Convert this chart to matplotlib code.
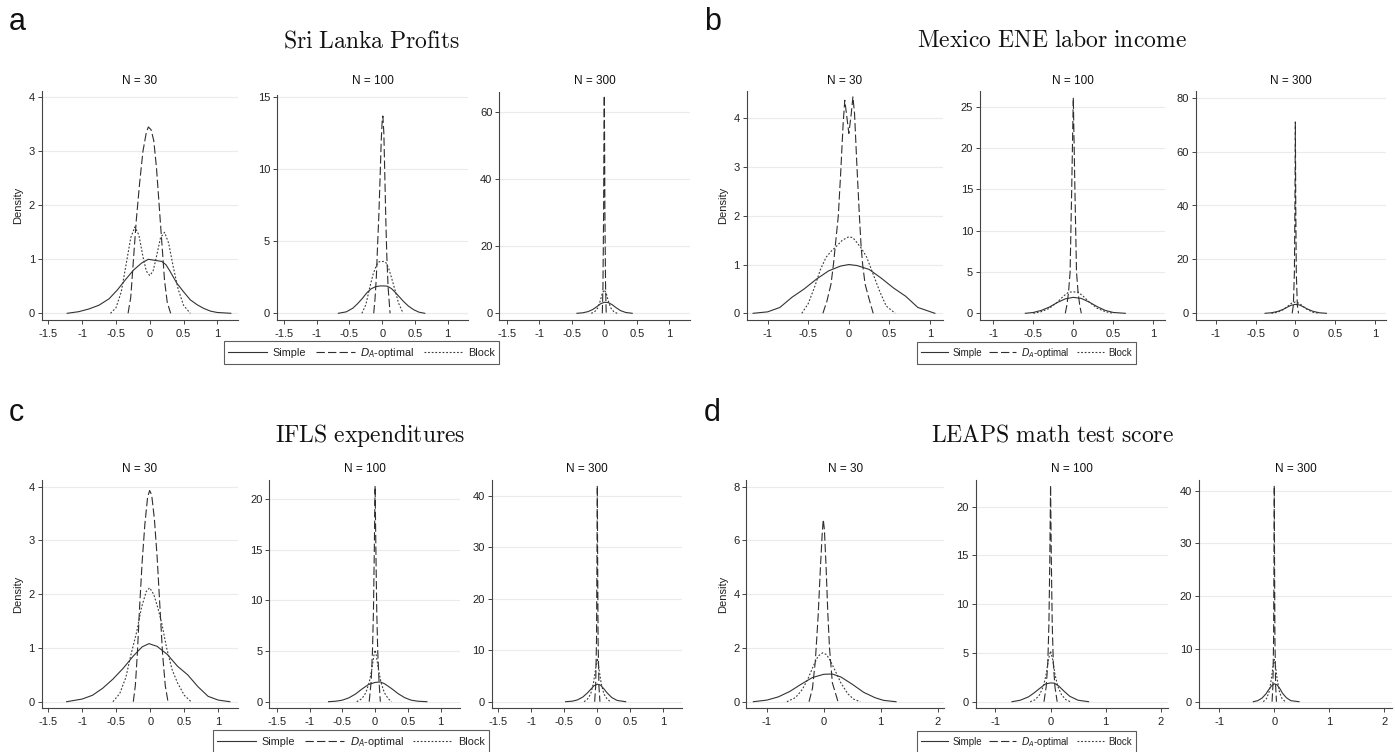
import matplotlib
matplotlib.use("Agg")
import matplotlib.pyplot as plt
from matplotlib.lines import Line2D

plt.rcParams['font.family'] = ['Liberation Sans', 'DejaVu Sans']
plt.rcParams['lines.scale_dashes'] = False

# ---------------- data ----------------
PANEL_TITLES = ["Sri Lanka Profits", "Mexico ENE labor income", "IFLS expenditures", "LEAPS math test score"]
PANEL_LETTERS = ["a", "b", "c", "d"]
SUB_TITLES = ["N = 30", "N = 100", "N = 300"]
SERIES = ["Simple", r"$D_A$-optimal", "Block"]

XT_AC = [-1.5, -1, -0.5, 0, 0.5, 1]
XT_AC_LAB = ["-1.5", "-1", "-0.5", "0", "0.5", "1"]
XT_B = [-1, -0.5, 0, 0.5, 1]
XT_B_LAB = ["-1", "-0.5", "0", "0.5", "1"]
XT_D = [-1, 0, 1, 2]
XT_D_LAB = ["-1", "0", "1", "2"]

YT_A = [[0, 1, 2, 3, 4], [0, 5, 10, 15], [0, 20, 40, 60]]
YT_B = [[0, 1, 2, 3, 4], [0, 5, 10, 15, 20, 25], [0, 20, 40, 60, 80]]
YT_C = [[0, 1, 2, 3, 4], [0, 5, 10, 15, 20], [0, 10, 20, 30, 40]]
YT_D = [[0, 2, 4, 6, 8], [0, 5, 10, 15, 20], [0, 10, 20, 30, 40]]

# Panel a
A30_SIMPLE_X = [-1.22, -1.05, -0.9, -0.75, -0.6, -0.48, -0.36, -0.24, -0.12, -0.02, 0.08, 0.18, 0.24, 0.3, 0.4, 0.5, 0.6, 0.7, 0.8, 0.9, 1.0, 1.2]
A30_SIMPLE_Y = [0.0, 0.03, 0.08, 0.15, 0.27, 0.43, 0.62, 0.8, 0.93, 1.0, 0.98, 0.96, 0.9, 0.78, 0.56, 0.4, 0.25, 0.16, 0.09, 0.04, 0.015, 0.0]
A30_DOPT_X = [-0.32, -0.28, -0.24, -0.2, -0.15, -0.1, -0.05, -0.02, 0.02, 0.06, 0.1, 0.14, 0.18, 0.22, 0.26, 0.31]
A30_DOPT_Y = [0.0, 0.3, 1.0, 1.7, 2.4, 3.0, 3.35, 3.45, 3.4, 3.2, 2.7, 2.0, 1.3, 0.6, 0.2, 0.0]
A30_BLOCK_X = [-0.58, -0.5, -0.42, -0.35, -0.28, -0.22, -0.16, -0.1, -0.05, 0.0, 0.05, 0.1, 0.16, 0.22, 0.28, 0.35, 0.42, 0.5, 0.6]
A30_BLOCK_Y = [0.0, 0.1, 0.4, 0.9, 1.4, 1.6, 1.45, 1.05, 0.78, 0.7, 0.78, 1.05, 1.4, 1.5, 1.3, 0.85, 0.45, 0.15, 0.0]

A100_SIMPLE_X = [-0.67, -0.55, -0.45, -0.38, -0.3, -0.24, -0.17, -0.1, -0.03, 0.03, 0.08, 0.14, 0.2, 0.26, 0.32, 0.4, 0.48, 0.56, 0.65]
A100_SIMPLE_Y = [0.0, 0.1, 0.35, 0.65, 1.05, 1.4, 1.7, 1.85, 1.9, 1.9, 1.88, 1.72, 1.45, 1.15, 0.85, 0.5, 0.25, 0.08, 0.0]
A100_DOPT_X = [-0.13, -0.11, -0.09, -0.07, -0.05, -0.03, -0.015, 0.0, 0.01, 0.025, 0.04, 0.055, 0.07, 0.09, 0.12]
A100_DOPT_Y = [0.0, 1.0, 2.5, 4.8, 7.0, 9.8, 12.0, 13.4, 13.7, 12.5, 9.5, 6.5, 4.0, 1.8, 0.0]
A100_BLOCK_X = [-0.31, -0.25, -0.19, -0.14, -0.1, -0.06, -0.03, 0.0, 0.03, 0.06, 0.1, 0.14, 0.19, 0.25, 0.32]
A100_BLOCK_Y = [0.0, 0.6, 1.8, 2.7, 3.2, 3.55, 3.6, 3.6, 3.6, 3.5, 3.1, 2.5, 1.7, 0.7, 0.0]

A300_SIMPLE_X = [-0.42, -0.33, -0.25, -0.18, -0.12, -0.06, 0.0, 0.06, 0.12, 0.18, 0.25, 0.33, 0.43]
A300_SIMPLE_Y = [0.0, 0.15, 0.5, 1.1, 1.9, 2.8, 3.3, 3.2, 2.6, 1.7, 0.8, 0.25, 0.0]
A300_DOPT_X = [-0.03, -0.02, -0.01, -0.005, 0.0, 0.005, 0.01, 0.02, 0.03]
A300_DOPT_Y = [0.0, 8, 30, 52, 65, 52, 30, 8, 0.0]
A300_BLOCK_X = [-0.2, -0.15, -0.1, -0.06, -0.03, 0.0, 0.03, 0.06, 0.1, 0.15, 0.2]
A300_BLOCK_Y = [0.0, 0.4, 1.6, 3.8, 6.0, 7.0, 6.0, 3.8, 1.6, 0.4, 0.0]

# Panel b
B30_SIMPLE_X = [-1.18, -1.0, -0.85, -0.7, -0.55, -0.4, -0.25, -0.1, 0.0, 0.1, 0.25, 0.4, 0.55, 0.7, 0.85, 1.06]
B30_SIMPLE_Y = [0.0, 0.03, 0.12, 0.33, 0.5, 0.7, 0.87, 0.97, 1.0, 0.98, 0.9, 0.72, 0.52, 0.35, 0.12, 0.0]
B30_DOPT_X = [-0.32, -0.27, -0.22, -0.19, -0.16, -0.13, -0.1, -0.07, -0.05, -0.03, 0.0, 0.03, 0.05, 0.07, 0.1, 0.13, 0.15, 0.17, 0.2, 0.24, 0.3]
B30_DOPT_Y = [0.0, 0.25, 0.6, 1.0, 1.5, 2.0, 2.9, 3.9, 4.37, 4.1, 3.69, 4.1, 4.44, 4.1, 3.0, 2.0, 1.4, 1.0, 0.6, 0.35, 0.0]
B30_BLOCK_X = [-0.58, -0.5, -0.42, -0.35, -0.28, -0.22, -0.15, -0.08, 0.0, 0.05, 0.1, 0.16, 0.22, 0.3, 0.38, 0.46, 0.57]
B30_BLOCK_Y = [0.0, 0.2, 0.55, 0.9, 1.15, 1.27, 1.38, 1.5, 1.57, 1.55, 1.45, 1.32, 1.15, 0.8, 0.45, 0.15, 0.0]

B100_SIMPLE_X = [-0.6, -0.5, -0.4, -0.3, -0.2, -0.1, 0.0, 0.1, 0.2, 0.3, 0.4, 0.5, 0.65]
B100_SIMPLE_Y = [0.0, 0.1, 0.35, 0.75, 1.3, 1.75, 1.93, 1.8, 1.35, 0.8, 0.35, 0.1, 0.0]
B100_DOPT_X = [-0.1, -0.08, -0.06, -0.04, -0.02, 0.0, 0.02, 0.04, 0.06, 0.08, 0.1]
B100_DOPT_Y = [0.0, 1.0, 2.5, 5.0, 15.0, 26.1, 15.0, 5.0, 2.5, 1.0, 0.0]
B100_BLOCK_X = [-0.5, -0.4, -0.3, -0.2, -0.12, -0.06, 0.0, 0.06, 0.12, 0.2, 0.3, 0.4, 0.5]
B100_BLOCK_Y = [0.0, 0.2, 0.6, 1.35, 2.1, 2.55, 2.6, 2.55, 2.1, 1.35, 0.6, 0.2, 0.0]

B300_SIMPLE_X = [-0.38, -0.3, -0.22, -0.15, -0.1, -0.05, 0.0, 0.05, 0.1, 0.15, 0.22, 0.3, 0.39]
B300_SIMPLE_Y = [0.0, 0.2, 0.7, 1.5, 2.3, 3.0, 3.3, 3.1, 2.4, 1.6, 0.75, 0.2, 0.0]
B300_DOPT_X = [-0.04, -0.025, -0.012, -0.005, 0.0, 0.005, 0.012, 0.025, 0.04]
B300_DOPT_Y = [0.0, 3, 15, 40, 71, 40, 15, 3, 0.0]
B300_BLOCK_X = [-0.3, -0.22, -0.15, -0.1, -0.05, 0.0, 0.05, 0.1, 0.15, 0.22, 0.3]
B300_BLOCK_Y = [0.0, 0.4, 1.4, 2.5, 3.7, 4.2, 3.7, 2.5, 1.4, 0.4, 0.0]

# Panel c
C30_SIMPLE_X = [-1.23, -1.0, -0.85, -0.7, -0.55, -0.4, -0.25, -0.12, -0.02, 0.1, 0.25, 0.4, 0.55, 0.7, 0.85, 1.0, 1.17]
C30_SIMPLE_Y = [0.0, 0.05, 0.12, 0.25, 0.42, 0.62, 0.85, 1.02, 1.08, 1.03, 0.88, 0.66, 0.5, 0.28, 0.1, 0.03, 0.0]
C30_DOPT_X = [-0.25, -0.22, -0.19, -0.16, -0.12, -0.08, -0.04, -0.01, 0.02, 0.06, 0.1, 0.14, 0.18, 0.22, 0.26]
C30_DOPT_Y = [0.0, 0.3, 0.9, 1.7, 2.6, 3.3, 3.8, 3.93, 3.85, 3.4, 2.7, 1.8, 0.9, 0.3, 0.0]
C30_BLOCK_X = [-0.55, -0.45, -0.36, -0.28, -0.2, -0.13, -0.06, -0.01, 0.05, 0.11, 0.17, 0.24, 0.32, 0.4, 0.5, 0.6]
C30_BLOCK_Y = [0.0, 0.15, 0.45, 0.9, 1.3, 1.75, 2.05, 2.12, 2.0, 1.75, 1.45, 1.0, 0.6, 0.35, 0.12, 0.0]

C100_SIMPLE_X = [-0.71, -0.6, -0.5, -0.4, -0.3, -0.2, -0.1, 0.0, 0.08, 0.15, 0.25, 0.35, 0.45, 0.55, 0.65, 0.79]
C100_SIMPLE_Y = [0.0, 0.05, 0.15, 0.38, 0.75, 1.25, 1.7, 1.9, 1.95, 1.75, 1.3, 0.8, 0.4, 0.15, 0.05, 0.0]
C100_DOPT_X = [-0.09, -0.06, -0.04, -0.025, -0.012, 0.0, 0.012, 0.025, 0.04, 0.06, 0.08]
C100_DOPT_Y = [0.0, 2.0, 5.0, 9.0, 15.0, 21.3, 15.0, 9.0, 5.0, 2.0, 0.0]
C100_BLOCK_X = [-0.28, -0.2, -0.14, -0.09, -0.05, -0.02, 0.0, 0.02, 0.05, 0.09, 0.14, 0.2, 0.25]
C100_BLOCK_Y = [0.0, 0.3, 0.9, 1.9, 3.2, 4.5, 5.1, 4.5, 3.2, 1.9, 0.9, 0.3, 0.0]

C300_SIMPLE_X = [-0.48, -0.38, -0.3, -0.22, -0.15, -0.1, -0.05, 0.0, 0.05, 0.1, 0.15, 0.22, 0.3, 0.43]
C300_SIMPLE_Y = [0.0, 0.1, 0.35, 0.9, 1.7, 2.4, 3.1, 3.4, 3.2, 2.5, 1.7, 0.8, 0.25, 0.0]
C300_DOPT_X = [-0.04, -0.025, -0.012, -0.005, 0.0, 0.005, 0.012, 0.025, 0.04]
C300_DOPT_Y = [0.0, 3, 12, 28, 42, 28, 12, 3, 0.0]
C300_BLOCK_X = [-0.2, -0.15, -0.1, -0.06, -0.03, -0.01, 0.0, 0.01, 0.03, 0.06, 0.1, 0.15, 0.2]
C300_BLOCK_Y = [0.0, 0.5, 1.5, 3.5, 6.0, 7.8, 8.4, 7.8, 6.0, 3.5, 1.5, 0.5, 0.0]

# Panel d
D30_SIMPLE_X = [-1.24, -1.0, -0.8, -0.6, -0.4, -0.2, 0.0, 0.15, 0.3, 0.5, 0.7, 0.9, 1.05, 1.27]
D30_SIMPLE_Y = [0.0, 0.06, 0.18, 0.38, 0.65, 0.9, 1.02, 1.03, 0.92, 0.65, 0.35, 0.15, 0.05, 0.0]
D30_DOPT_X = [-0.26, -0.2, -0.15, -0.1, -0.06, -0.03, -0.01, 0.01, 0.04, 0.07, 0.1, 0.15, 0.25]
D30_DOPT_Y = [0.0, 0.5, 1.5, 3.2, 5.0, 6.2, 6.78, 6.4, 5.0, 3.3, 2.0, 0.7, 0.0]
D30_BLOCK_X = [-0.65, -0.5, -0.38, -0.28, -0.18, -0.1, -0.02, 0.05, 0.12, 0.2, 0.3, 0.42, 0.52, 0.64]
D30_BLOCK_Y = [0.0, 0.15, 0.45, 0.85, 1.35, 1.7, 1.82, 1.75, 1.5, 1.15, 0.7, 0.3, 0.1, 0.0]

D100_SIMPLE_X = [-0.7, -0.55, -0.4, -0.3, -0.2, -0.1, 0.0, 0.07, 0.15, 0.25, 0.35, 0.5, 0.69]
D100_SIMPLE_Y = [0.0, 0.15, 0.5, 0.9, 1.35, 1.8, 1.93, 1.9, 1.6, 1.05, 0.55, 0.15, 0.0]
D100_DOPT_X = [-0.12, -0.08, -0.05, -0.03, -0.015, 0.0, 0.015, 0.03, 0.05, 0.08, 0.12]
D100_DOPT_Y = [0.0, 1.5, 4.0, 8.0, 14.0, 22.2, 14.0, 8.0, 4.0, 1.5, 0.0]
D100_BLOCK_X = [-0.37, -0.28, -0.2, -0.13, -0.08, -0.04, 0.0, 0.04, 0.08, 0.13, 0.2, 0.28, 0.36]
D100_BLOCK_Y = [0.0, 0.2, 0.7, 1.6, 2.8, 4.3, 5.2, 4.3, 2.8, 1.6, 0.7, 0.2, 0.0]

D300_SIMPLE_X = [-0.38, -0.3, -0.22, -0.15, -0.1, -0.05, 0.0, 0.05, 0.1, 0.15, 0.22, 0.3, 0.45]
D300_SIMPLE_Y = [0.0, 0.2, 0.7, 1.5, 2.3, 3.0, 3.4, 3.2, 2.5, 1.6, 0.75, 0.2, 0.0]
D300_DOPT_X = [-0.04, -0.025, -0.012, -0.005, 0.0, 0.005, 0.012, 0.025, 0.04]
D300_DOPT_Y = [0.0, 3, 12, 27, 41, 27, 12, 3, 0.0]
D300_BLOCK_X = [-0.2, -0.14, -0.09, -0.05, -0.02, 0.0, 0.02, 0.05, 0.09, 0.14, 0.2]
D300_BLOCK_Y = [0.0, 0.6, 2.0, 4.5, 7.0, 8.0, 7.0, 4.5, 2.0, 0.6, 0.0]

CURVES = {
    "a": [[(A30_SIMPLE_X, A30_SIMPLE_Y), (A30_DOPT_X, A30_DOPT_Y), (A30_BLOCK_X, A30_BLOCK_Y)],
          [(A100_SIMPLE_X, A100_SIMPLE_Y), (A100_DOPT_X, A100_DOPT_Y), (A100_BLOCK_X, A100_BLOCK_Y)],
          [(A300_SIMPLE_X, A300_SIMPLE_Y), (A300_DOPT_X, A300_DOPT_Y), (A300_BLOCK_X, A300_BLOCK_Y)]],
    "b": [[(B30_SIMPLE_X, B30_SIMPLE_Y), (B30_DOPT_X, B30_DOPT_Y), (B30_BLOCK_X, B30_BLOCK_Y)],
          [(B100_SIMPLE_X, B100_SIMPLE_Y), (B100_DOPT_X, B100_DOPT_Y), (B100_BLOCK_X, B100_BLOCK_Y)],
          [(B300_SIMPLE_X, B300_SIMPLE_Y), (B300_DOPT_X, B300_DOPT_Y), (B300_BLOCK_X, B300_BLOCK_Y)]],
    "c": [[(C30_SIMPLE_X, C30_SIMPLE_Y), (C30_DOPT_X, C30_DOPT_Y), (C30_BLOCK_X, C30_BLOCK_Y)],
          [(C100_SIMPLE_X, C100_SIMPLE_Y), (C100_DOPT_X, C100_DOPT_Y), (C100_BLOCK_X, C100_BLOCK_Y)],
          [(C300_SIMPLE_X, C300_SIMPLE_Y), (C300_DOPT_X, C300_DOPT_Y), (C300_BLOCK_X, C300_BLOCK_Y)]],
    "d": [[(D30_SIMPLE_X, D30_SIMPLE_Y), (D30_DOPT_X, D30_DOPT_Y), (D30_BLOCK_X, D30_BLOCK_Y)],
          [(D100_SIMPLE_X, D100_SIMPLE_Y), (D100_DOPT_X, D100_DOPT_Y), (D100_BLOCK_X, D100_BLOCK_Y)],
          [(D300_SIMPLE_X, D300_SIMPLE_Y), (D300_DOPT_X, D300_DOPT_Y), (D300_BLOCK_X, D300_BLOCK_Y)]],
}

# ---------------- layout (pixels) ----------------
W, H = 1395, 752
fig = plt.figure(figsize=(W / 100, H / 100), dpi=100)

# (left, right, top, bottom, (xv1, xp1, xv2, xp2), (yv1, yp1, yv2, yp2))
BOXES = {
    "a": [(42, 238, 91, 320, (-1.5, 48.3, 1, 217.3), (0, 313.3, 4, 97.3)),
          (277, 468, 95, 320, (-1.5, 284, 1, 447.7), (0, 313.3, 15, 97.3)),
          (499.3, 690, 91.7, 320, (-1.5, 506.7, 1, 669.3), (0, 313.3, 60, 112.3))],
    "b": [(746.7, 942.7, 91, 320, (-1, 767.7, 1, 930), (0, 313.3, 4, 118.3)),
          (980, 1165, 91, 320, (-1, 993.3, 1, 1153.3), (0, 313.3, 25, 106.7)),
          (1195.7, 1386, 91, 320, (-1, 1215.7, 1, 1375), (0, 313.3, 80, 97.7))],
    "c": [(41.7, 238, 480, 708.3, (-1.5, 48.3, 1, 218.3), (0, 701.7, 4, 486.7)),
          (269.3, 460, 480, 708.3, (-1.5, 276.7, 1, 440.7), (0, 701.7, 20, 499)),
          (491.7, 681.7, 480, 708.3, (-1.5, 498.3, 1, 663.3), (0, 701.7, 40, 495.7))],
    "d": [(746.4, 944.2, 480, 708.3, (-1, 767, 2, 937.5), (0, 701.7, 8, 486.7)),
          (975.9, 1167.9, 480, 708.3, (-1, 995.5, 2, 1160.7), (0, 701.7, 20, 506.7)),
          (1199.1, 1392, 480, 708.3, (-1, 1219.2, 2, 1384.4), (0, 701.7, 40, 490.7))],
}
XTICKS = {"a": (XT_AC, XT_AC_LAB), "b": (XT_B, XT_B_LAB), "c": (XT_AC, XT_AC_LAB), "d": (XT_D, XT_D_LAB)}
YTICKS = {"a": YT_A, "b": YT_B, "c": YT_C, "d": YT_D}

SUBTITLE_Y = {"a": 80.7, "b": 80.7, "c": 469.3, "d": 469.3}
TITLE_POS = {"a": (372, 47), "b": (1052, 47), "c": (370, 442), "d": (1052, 442)}
LETTER_POS = {"a": (9, 30), "b": (704, 30), "c": (9, 421), "d": (704, 421)}
LEGEND_POS = {"a": (361.5, 352.7), "b": (1026.5, 352.7), "c": (351, 741.8), "d": (1026.5, 741.8)}

LINE_COL = "#2e2e2e"
STYLES = [dict(linestyle="-", color="#333333"),
          dict(linestyle=(0, (6.0, 2.3)), color=LINE_COL),
          dict(linestyle=(0, (1.3, 1.3)), color="#3a3a3a")]
LW = 0.8


def lim(lo_px, hi_px, v1, p1, v2, p2):
    k = (p2 - p1) / (v2 - v1)
    return (v1 + (lo_px - p1) / k, v1 + (hi_px - p1) / k)


for key in ["a", "b", "c", "d"]:
    pidx = "abcd".index(key)
    for j in range(3):
        l, r, t, b, xr, yr = BOXES[key][j]
        ax = fig.add_axes([l / W, 1 - b / H, (r - l) / W, (b - t) / H])
        ax.set_xlim(*lim(l, r, *xr))
        ax.set_ylim(*lim(b, t, *yr))
        for (xs, ys), st in zip(CURVES[key][j], STYLES):
            ax.plot(xs, ys, lw=LW, solid_joinstyle="round", **st)
        xt, xl = XTICKS[key]
        ax.set_xticks(xt)
        ax.set_xticklabels(xl)
        ax.set_yticks(YTICKS[key][j])
        ax.set_yticklabels([str(v) for v in YTICKS[key][j]])
        ax.yaxis.grid(True, color="#ebebeb", lw=0.8)
        ax.xaxis.grid(False)
        ax.set_axisbelow(True)
        for s in ["top", "right"]:
            ax.spines[s].set_visible(False)
        for s in ["left", "bottom"]:
            ax.spines[s].set_color("#444444")
            ax.spines[s].set_linewidth(0.8)
        ax.tick_params(axis="both", length=3, width=0.7, color="#444444",
                       labelcolor="#222222", labelsize=8, pad=2)
        ax.tick_params(axis="x", pad=3.5)
        ax.patch.set_alpha(0)
        fig.text((l + r) / 2 / W, 1 - SUBTITLE_Y[key] / H, SUB_TITLES[j],
                 ha="center", va="center", fontsize=8.5, color="#111111")
        if j == 0:
            ax.set_ylabel("Density", fontsize=8, color="#222222", labelpad=4)

    tx, ty = TITLE_POS[key]
    title_txt = r"$\mathrm{" + PANEL_TITLES[pidx].replace(" ", r"\ ") + "}$"
    fig.text(tx / W, 1 - ty / H, title_txt, math_fontfamily="cm",
             fontsize=17, ha="center", va="baseline", color="#111111")
    lx, ly = LETTER_POS[key]
    fig.text(lx / W, 1 - ly / H, PANEL_LETTERS[pidx], fontsize=22,
             ha="left", va="baseline", color="#111111")

    handles = [Line2D([], [], lw=LW, **st) for st in STYLES]
    small = key in ("b", "d")
    cx, cy = LEGEND_POS[key]
    leg = fig.legend(handles, SERIES, loc="center", bbox_to_anchor=(cx / W, 1 - cy / H),
                     ncol=3, frameon=True, fancybox=False, edgecolor="#333333",
                     fontsize=7 if small else 7.8, handlelength=2.8 if small else 3.6,
                     handletextpad=0.5, columnspacing=0.7 if small else 0.9,
                     borderpad=0.4, borderaxespad=0)
    leg.get_frame().set_linewidth(0.8)
    for txt in leg.get_texts():
        txt.set_color("#222222")

fig.savefig("out.png", dpi=100)
